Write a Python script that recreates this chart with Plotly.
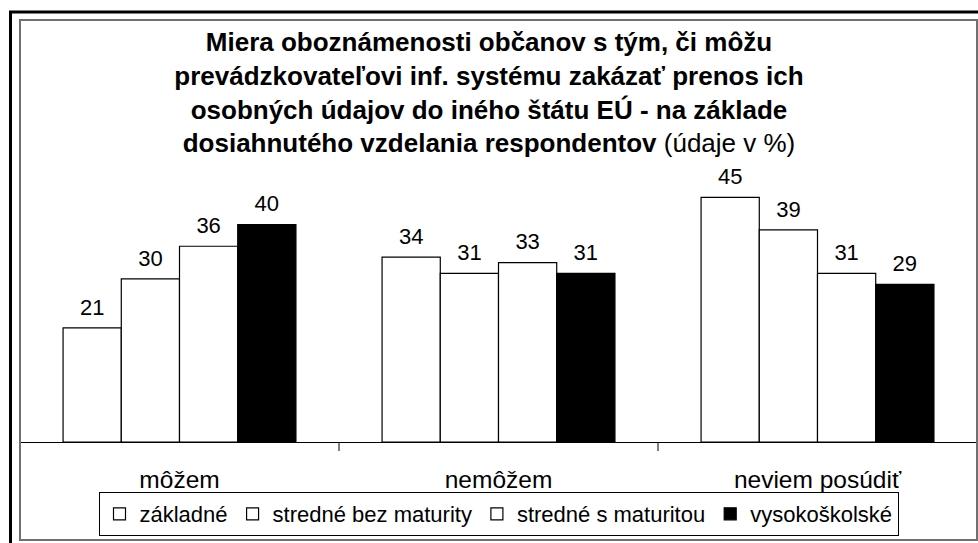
import plotly.graph_objects as go

categories = ["môžem", "nemôžem", "neviem posúdiť"]
series_names = ["základné", "stredné bez maturity", "stredné s maturitou", "vysokoškolské"]
values = {
    "základné": [21, 34, 45],
    "stredné bez maturity": [30, 31, 39],
    "stredné s maturitou": [36, 33, 31],
    "vysokoškolské": [40, 31, 29],
}
fill_colors = ["white", "white", "white", "black"]

FONT = "Liberation Sans, Arial, sans-serif"
W, H = 978, 543
ML, MR, MT, MB = 20, 1, 181, 101
PW = W - ML - MR
PH = H - MT - MB
YMAX = 48
LABEL_PAD = 0.95  # in data units, spacing between bar top and value label

def px_x(x):
    return (x - ML) / PW

def px_y(y):
    return (H - MB - y) / PH

fig = go.Figure()
for i, name in enumerate(series_names):
    fig.add_trace(go.Bar(
        x=categories, y=values[name], name=name, offsetgroup=str(i),
        marker=dict(color=fill_colors[i], line=dict(color="black", width=1.2)),
        hoverinfo="x+y+name",
    ))
for i, name in enumerate(series_names):
    fig.add_trace(go.Bar(
        x=categories, y=[LABEL_PAD] * len(categories), base=values[name],
        offsetgroup=str(i), showlegend=False, hoverinfo="skip",
        marker=dict(color="rgba(0,0,0,0)", line=dict(width=0)),
        text=[str(v) for v in values[name]], textposition="outside",
        textfont=dict(family=FONT, size=22, color="black"),
        cliponaxis=False,
    ))

title_text = ("<b>Miera oboznámenosti občanov s tým, či môžu<br>"
              "prevádzkovateľovi inf. systému zakázať prenos ich<br>"
              "osobných údajov do iného štátu EÚ - na základe<br>"
              "dosiahnutého vzdelania respondentov</b> (údaje v %)")

fig.update_layout(
    width=W, height=H,
    margin=dict(l=ML, r=MR, t=MT, b=MB),
    paper_bgcolor="white", plot_bgcolor="white",
    barmode="group", bargap=0.27, bargroupgap=0,
    font=dict(family=FONT, color="black"),
    title=dict(text=title_text, x=0.5, xanchor="center", y=1 - 51 / H, yanchor="top",
               font=dict(family=FONT, size=26, color="black")),
    showlegend=True,
    legend=dict(orientation="h", x=0.5, xanchor="center",
                y=px_y(536), yanchor="bottom",
                bordercolor="black", borderwidth=1,
                font=dict(family=FONT, size=22, color="black"),
                traceorder="normal"),
    xaxis=dict(showline=True, linecolor="black", linewidth=1,
               ticks="outside", tickson="boundaries", ticklen=8, tickcolor="#808080",
               tickwidth=1.5,
               tickfont=dict(family=FONT, size=24.5, color="black"),
               ticklabelstandoff=16,
               showgrid=False, zeroline=False, fixedrange=True),
    yaxis=dict(visible=False, range=[0, YMAX], showgrid=False, zeroline=False,
               fixedrange=True),
    shapes=[
        dict(type="rect", xref="paper", yref="paper",
             x0=px_x(20), x1=px_x(977), y0=px_y(540), y1=px_y(20),
             line=dict(color="#707070", width=2), layer="above"),
        dict(type="path", xref="paper", yref="paper",
             path=f"M {px_x(10.5)},{px_y(560)} L {px_x(10.5)},{px_y(12)} L {px_x(1000)},{px_y(12)}",
             line=dict(color="black", width=3), layer="above"),
    ],
)

fig.write_html("out.html", config={"displayModeBar": False},
               post_script="document.body.style.margin='0px';document.body.style.overflow='hidden';")
